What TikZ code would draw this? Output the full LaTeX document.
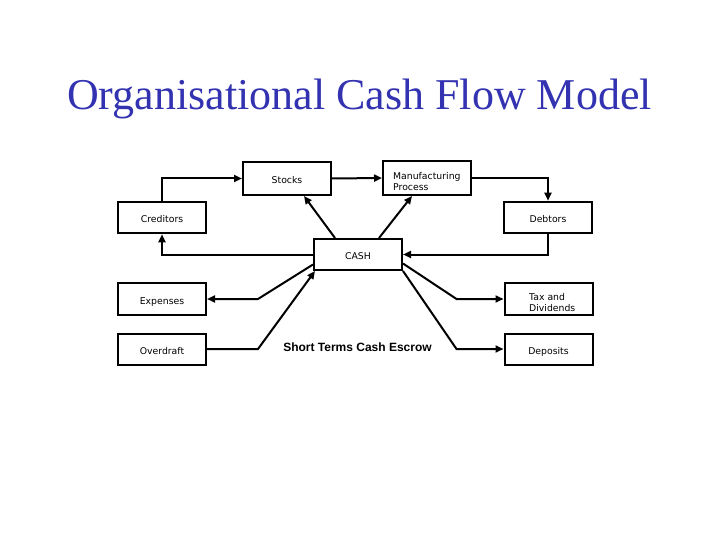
\documentclass[tikz,border=0pt]{standalone}
\usepackage{fontspec}
\setmainfont{Liberation Serif}
\newfontfamily\boxfont{DejaVu Sans}
\newfontfamily\armfont{Liberation Sans}
\usetikzlibrary{arrows.meta,calc}
\definecolor{titleblue}{RGB}{51,51,178}
\begin{document}
\begin{tikzpicture}[x=1pt,y=-1pt,
  box/.style={draw=black,line width=2pt,minimum width=88pt,minimum height=32pt,inner sep=0pt,
     text height=10pt,text depth=0pt,
     font=\boxfont\fontsize{9.3}{11.5}\selectfont},
  conn/.style={line width=2pt,draw=black},
  arr/.style={conn,-{Triangle[length=8pt,width=7pt]}}]
\useasboundingbox (0,0) rectangle (720,540);
\node[font=\fontsize{44}{48}\selectfont,text=titleblue,anchor=base] (title) at (359.5,110) {Organisational Cash Flow Model};

\node[box,minimum height=33pt] (stocks) at (287,178.5) {Stocks};
\node[box,minimum height=34pt] (manu) at (427,178) {};
\node[anchor=west,align=left,inner sep=0pt,font=\boxfont\fontsize{9.3}{11.5}\selectfont] (manut) at (393,181.5) {Manufacturing\\Process};
\node[box,minimum height=31.5pt] (cred) at (162,217.5) {Creditors};
\node[box,minimum height=31.5pt] (debt) at (548,217.5) {Debtors};
\node[box,minimum height=31pt] (cash) at (358,254.5) {CASH};
\node[box] (exp) at (162,299) {Expenses};
\node[box,minimum height=31pt] (od) at (162,349) {Overdraft};
\node[box] (tax) at (548.5,299) {};
\node[anchor=west,align=left,inner sep=0pt,font=\boxfont\fontsize{9.3}{11.5}\selectfont] (taxt) at (529,302.5) {Tax and\\Dividends};
\node[box,minimum height=31pt] (dep) at (548.5,349) {Deposits};

\node[font=\armfont\bfseries\fontsize{12}{14}\selectfont,anchor=base] (escrow) at (357.5,351) {Short Terms Cash Escrow};

\draw[arr] (cred.north) |- (stocks.west);
\draw[arr] (stocks.east) -- (manu.west);
\draw[arr] (manu.east) -| (debt.north);
\draw[arr] (debt.south) |- (cash.east);
\draw[arr] (cash.west) -| (cred.south);
\draw[arr] ([xshift=22pt]cash.north west) -- ([xshift=17pt]stocks.south);
\draw[arr] ([xshift=66pt]cash.north west) -- ([xshift=-15pt]manu.south);
\draw[arr] ([yshift=-10pt]cash.west) -- ($(exp.east)+(51,0)$) -- (exp.east);
\draw[arr] (od.east) -- ($(od.east)+(51,0)$) -- ([xshift=2pt]cash.south west);
\draw[arr] ([yshift=-9pt]cash.east) -- ($(tax.west)+(-47,0)$) -- (tax.west);
\draw[arr] (cash.south east) -- ($(dep.west)+(-47,0)$) -- (dep.west);
\end{tikzpicture}
\end{document}
